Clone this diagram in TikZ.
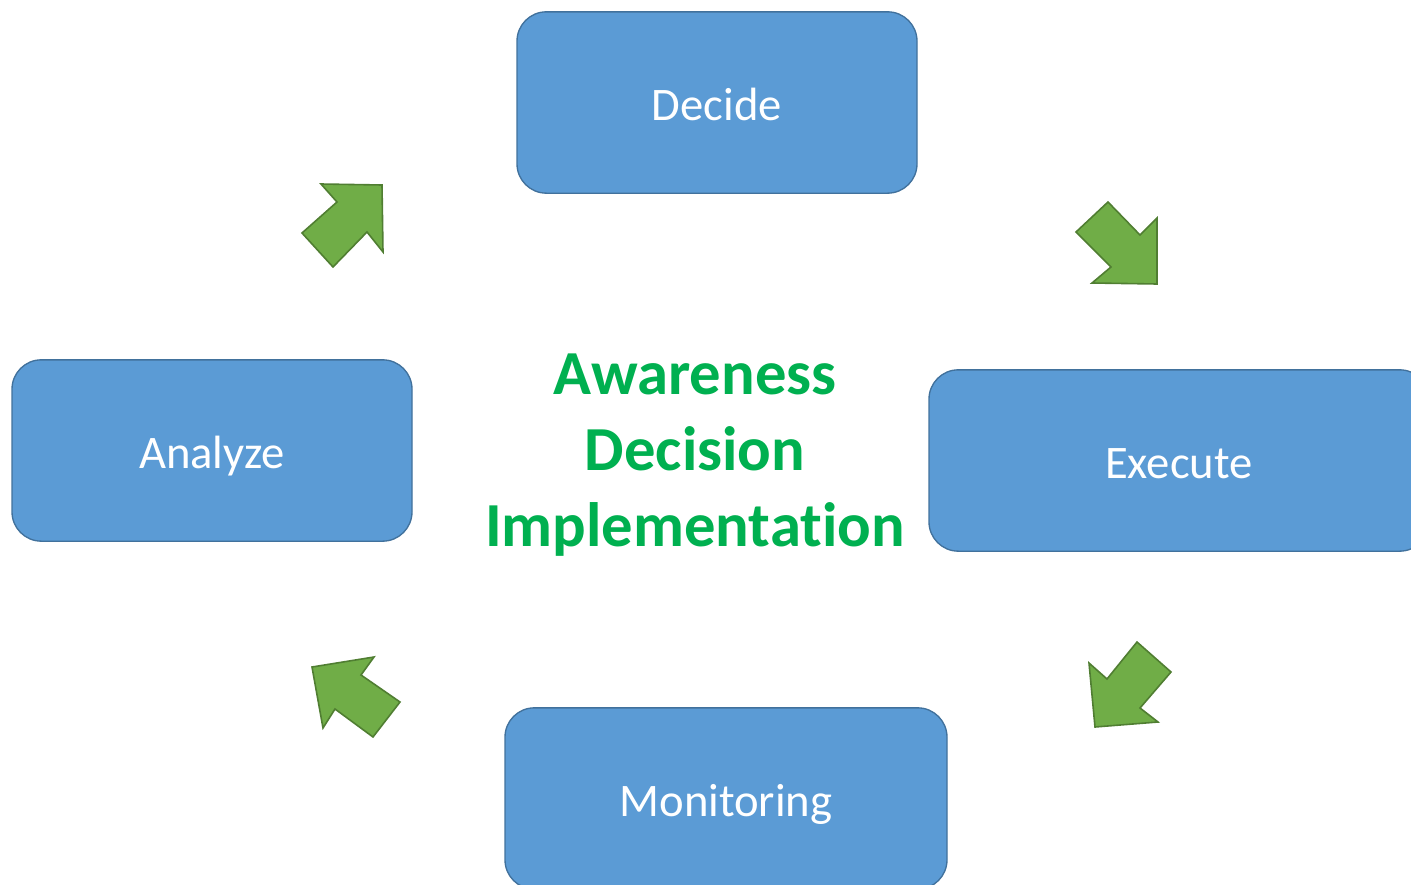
\documentclass[tikz,border=0pt]{standalone}
\usepackage{fontspec}
\setmainfont[Ligatures={NoCommon}]{Carlito}
\usetikzlibrary{positioning}
\definecolor{boxblue}{HTML}{5B9BD5}
\definecolor{boxline}{HTML}{41719C}
\definecolor{arrowgreen}{HTML}{70AD47}
\definecolor{arrowline}{HTML}{507E32}
\definecolor{titlegreen}{HTML}{00B050}
\begin{document}
\begin{tikzpicture}[x=0.75pt, y=-0.75pt]

        % Styles
        \tikzstyle{stagebox} = [draw=boxline, fill=boxblue, line width=1pt, rounded corners=22pt,
            text=white, inner sep=0pt, minimum height=136pt, text height=30pt, text depth=3pt,
            font=\fontsize{35}{42}\selectfont]
        \tikzstyle{flowarrow} = [draw=arrowline, fill=arrowgreen, line width=1.2pt, line join=miter]
        \tikzstyle{title} = [text=titlegreen, align=center, font=\bfseries\fontsize{47}{57}\selectfont]

        \useasboundingbox (0,0) rectangle (1411,885);

        % --- STAGES ---
        \node[stagebox, minimum width=300pt] (decide) at (717,102.5) {Decide};
        \node[stagebox, minimum width=375pt] (execute) at (1179,460.5) {Execute};
        \node[stagebox, minimum width=331.5pt] (monitor) at (726,798.5) {Monitoring};
        \node[stagebox, minimum width=300pt] (analyze) at (212,450.5) {Analyze};

        % --- CENTRE TEXT ---
        \node[title] (goal) at (695,455) {Awareness\\Decision\\Implementation};

        % --- CYCLE ARROWS ---
        \draw[flowarrow] (321,184) -- (382,185) -- (383,252) -- (367,232) -- (333,267) -- (302,233) -- (337,202) -- cycle; % to Decide
        \draw[flowarrow] (1108,202) -- (1140,235) -- (1157,218) -- (1157,284) -- (1092,283) -- (1111,267) -- (1076,232) -- cycle; % to Execute
        \draw[flowarrow] (1137,642) -- (1171,672) -- (1140,708) -- (1158,722) -- (1095,727) -- (1089,663) -- (1107,679) -- cycle; % to Monitoring
        \draw[flowarrow] (312,667) -- (374,657) -- (361,675) -- (400,702) -- (373,737) -- (335,709) -- (323,728) -- cycle; % to Analyze

\end{tikzpicture}
\end{document}
